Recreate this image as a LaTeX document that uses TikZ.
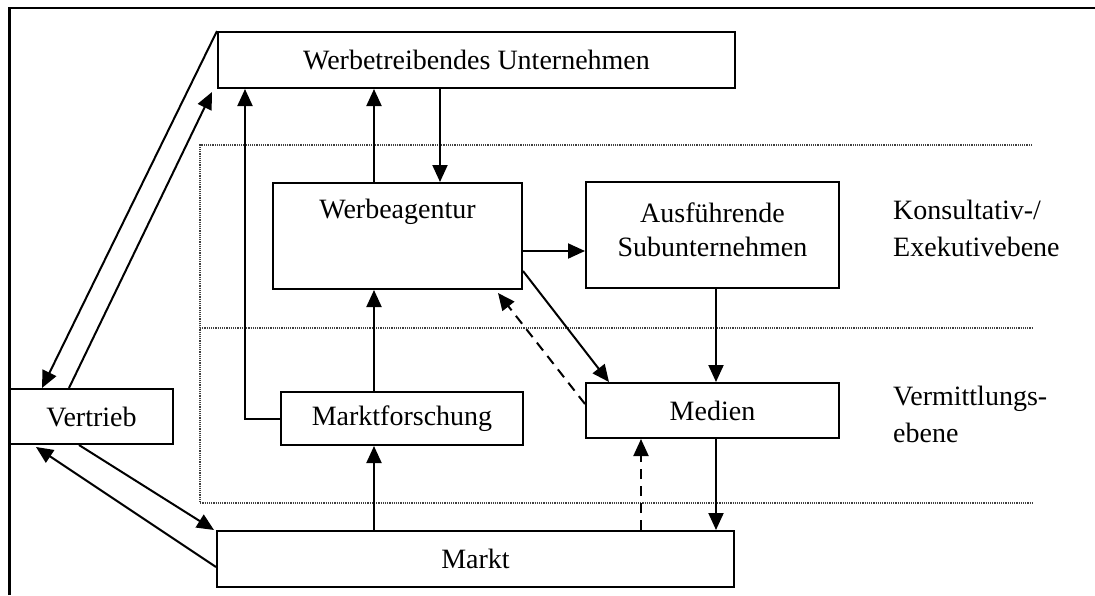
\documentclass[tikz,border=0pt]{standalone}
\usepackage{fontspec}
\setmainfont{Liberation Serif}
\usetikzlibrary{arrows.meta,calc}
\begin{document}
\begin{tikzpicture}[x=1pt,y=-1pt,
  every node/.style={font=\fontsize{28}{34}\selectfont},
  box/.style={draw, line width=2pt, inner sep=0pt},
  conn/.style={line width=2pt, -{Triangle[length=17pt,width=15pt]}},
  dconn/.style={conn, dash pattern=on 10pt off 7pt},
  level/.style={draw=black!75, line width=1.3pt, dash pattern=on 1.2pt off 1pt},
  tag/.style={align=left, anchor=base west, inner sep=0pt,
    font=\fontsize{28}{37}\selectfont}]
\useasboundingbox (0,0) rectangle (1095,595);
% frame
\draw[line width=2.6pt] (9.5,595) -- (9.5,8) -- (1095,8);

% dotted level frame
\draw[level] (1032,145) -- (200,145) -- (200,503) -- (1032,503);
\draw[level] (200,328) -- (1032,328);

% boxes
\node[box, minimum width=517pt, minimum height=56pt] (wu) at (476.5,60) {Werbetreibendes Unternehmen};
\node[box, minimum width=249pt, minimum height=106pt] (wa) at (397.5,236) {};
\node (wat) at (397.5,212) {Werbeagentur};
\node[box, minimum width=253pt, minimum height=106pt] (au) at (712.5,235) {};
\node[align=center] (aut) at (712.5,230) {Ausführende\\Subunternehmen};
\node[box, minimum width=163pt, minimum height=55pt] (vt) at (91.5,416.5) {Vertrieb};
\node[box, minimum width=242pt, minimum height=53pt] (mf) at (402,418.5) {Marktforschung};
\node[box, minimum width=253pt, minimum height=55pt] (me) at (712.5,410.5) {Medien};
\node[box, minimum width=517pt, minimum height=56pt] (mk) at (475.5,559) {Markt};

% level labels (anchored at the baseline of the last line)
\node[tag] (k) at (893,256) {Konsultativ-/\\Exekutivebene};
\node[tag] (v) at (893,442) {Vermittlungs-\\ebene};

% column helpers
\coordinate (c1) at (374,0);
\coordinate (c2) at (440,0);
\coordinate (c3) at (716,0);
\coordinate (c4) at (641,0);
\coordinate (r1) at (0,251);

% connectors
\draw[conn] (wu.north west) -- ($(vt.north west)+(33,0)$);
\draw[conn] ($(vt.north west)+(60,0)$) -- ($(wu.south west)+(-5,3)$);
\draw[conn] (mf.west) -| ($(wu.south west)+(28,0)$);
\draw[conn] (c1 |- wa.north) -- (c1 |- wu.south);
\draw[conn] (c2 |- wu.south) -- (c2 |- wa.north);
\draw[conn] (wa.east |- r1) -- (au.west |- r1);
\draw[conn] ($(wa.south east)+(0,-19)$) -- ($(me.north west)+(24,0)$);
\draw[dconn] ($(me.north west)+(0,22)$) -- ($(wa.south east)+(-25,3)$);
\draw[conn] (c3 |- au.south) -- (c3 |- me.north);
\draw[conn] (c3 |- me.south) -- (c3 |- mk.north);
\draw[dconn] (c4 |- mk.north) -- (c4 |- me.south);
\draw[conn] (c1 |- mk.north) -- (c1 |- mf.south);
\draw[conn] (c1 |- mf.north) -- (c1 |- wa.south);
\draw[conn] ($(vt.south west)+(70,0)$) -- ($(mk.north west)+(-2,0)$);
\draw[conn] ($(mk.west)+(0,8)$) -- ($(vt.south west)+(27,2)$);
\end{tikzpicture}
\end{document}
